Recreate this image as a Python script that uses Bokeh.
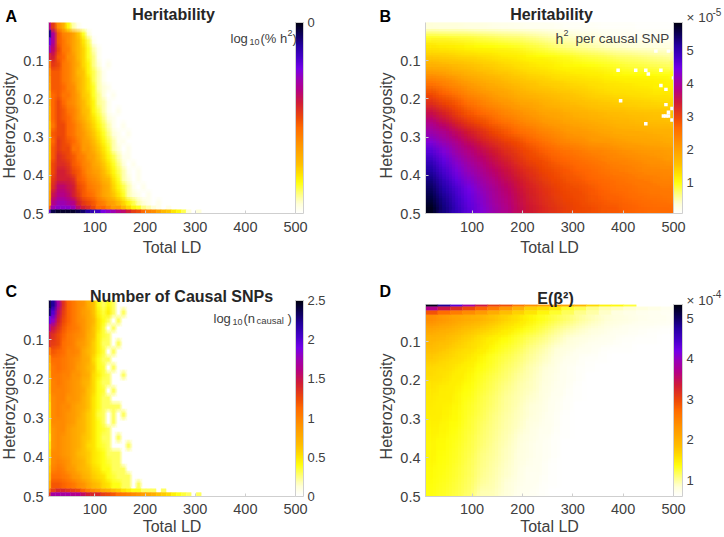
import math
import numpy as np
from bokeh.embed import file_html
from bokeh.resources import INLINE
from bokeh.plotting import figure
from bokeh.layouts import column, row
from bokeh.models import (ColumnDataSource, LinearColorMapper, ColorBar, FixedTicker, Range1d, Label)
from bokeh.transform import transform

FONT = "Liberation Sans"
INK = "#404040"
PALE = "#cfcfcf"

color_stops = [(0.00, "#ffffff"), (0.05, "#ffffd8"), (0.10, "#ffff80"), (0.16, "#ffff10"), (0.21, "#ffdf00"),
               (0.26, "#ffbf00"), (0.36, "#ff9500"), (0.45, "#ff6a00"), (0.50, "#ee4a08"), (0.58, "#d01c38"),
               (0.65, "#b40088"), (0.71, "#9800b8"), (0.76, "#7400e8"), (0.82, "#4400c8"), (0.88, "#2400a0"),
               (0.94, "#0c0058"), (1.00, "#000010")]

# ---------- Panel A: log10(% h2); rows of Heterozygosity, columns of Total LD ----------
A_rows = [
 [-0.70,-0.95,-1.25,-1.40,-1.65,-1.85,-1.95],
 [-0.20,-0.65,-1.05,-1.20,-1.25,-1.35,-1.50,-1.70,-1.90],
 [-0.45,-0.65,-1.05,-1.15,-1.25,-1.35,-1.45,-1.60,-1.75,-1.95],
 [-0.60,-0.75,-1.00,-1.15,-1.20,-1.35,-1.45,-1.55,-1.70,-1.85,-1.95],
 [-0.85,-0.85,-1.05,-1.10,-1.25,-1.30,-1.45,-1.55,-1.70,-1.80,-1.95],
 [-1.15,-0.95,-1.00,-1.15,-1.20,-1.30,-1.40,-1.55,-1.65,-1.80,-1.90,-2.00,-1.95],
 [-1.25,-1.05,-1.05,-1.15,-1.20,-1.30,-1.45,-1.50,-1.65,-1.75,-1.85,-1.95],
 [-1.30,-1.05,-1.05,-1.15,-1.20,-1.30,-1.40,-1.50,-1.60,-1.75,-1.85,-1.95],
 [-1.35,-1.05,-1.05,-1.10,-1.20,-1.25,-1.40,-1.50,-1.60,-1.70,-1.85,-1.90,-1.95],
 [-1.40,-1.10,-1.05,-1.15,-1.15,-1.25,-1.35,-1.50,-1.55,-1.70,-1.80,-1.90,-2.00,-1.95],
 [-1.40,-1.10,-1.00,-1.10,-1.20,-1.25,-1.35,-1.45,-1.55,-1.65,-1.80,-1.85,-1.95],
 [-1.45,-1.10,-1.00,-1.05,-1.15,-1.20,-1.30,-1.45,-1.50,-1.65,-1.75,-1.85,-1.95,-2.00,-1.95],
 [-1.45,-1.10,-1.00,-1.05,-1.10,-1.20,-1.30,-1.40,-1.50,-1.60,-1.70,-1.80,-1.90,-1.95],
 [-1.50,-1.15,-1.00,-1.00,-1.10,-1.15,-1.25,-1.35,-1.45,-1.55,-1.65,-1.75,-1.85,-1.95,-2.00,-1.95],
 [-1.50,-1.05,-1.00,-1.00,-1.10,-1.15,-1.25,-1.30,-1.40,-1.50,-1.60,-1.70,-1.80,-1.90,-1.95,-2.00,-1.95],
 [-1.50,-1.10,-0.95,-1.00,-1.05,-1.10,-1.20,-1.30,-1.35,-1.45,-1.55,-1.65,-1.75,-1.85,-1.95,-1.95],
 [-1.50,-1.05,-0.95,-1.00,-1.00,-1.15,-1.15,-1.30,-1.30,-1.40,-1.50,-1.60,-1.70,-1.85,-1.90,-2.00,-1.95],
 [-1.50,-1.05,-0.90,-0.95,-1.00,-1.05,-1.15,-1.20,-1.30,-1.35,-1.45,-1.55,-1.65,-1.75,-1.85,-1.95,-1.95],
 [-1.45,-1.00,-0.90,-0.90,-0.95,-1.05,-1.10,-1.20,-1.25,-1.35,-1.40,-1.50,-1.60,-1.70,-1.80,-1.90,-2.00,-1.95],
 [-1.45,-1.00,-0.85,-0.85,-0.90,-1.00,-1.05,-1.15,-1.25,-1.30,-1.35,-1.45,-1.55,-1.65,-1.75,-1.85,-1.95,-2.00,-1.95],
 [-1.45,-0.95,-0.85,-0.85,-0.85,-0.90,-1.05,-1.10,-1.20,-1.25,-1.30,-1.40,-1.45,-1.60,-1.70,-1.85,-1.90,-2.00,-1.95],
 [-1.40,-0.90,-0.75,-0.75,-0.80,-0.85,-1.00,-1.05,-1.15,-1.20,-1.25,-1.35,-1.40,-1.55,-1.65,-1.75,-1.85,-1.95,-2.00,-1.95],
 [-1.35,-0.80,-0.70,-0.70,-0.75,-0.85,-0.95,-1.05,-1.10,-1.15,-1.25,-1.35,-1.40,-1.50,-1.60,-1.70,-1.85,-1.90,-1.95,-2.00,-1.95],
 [-1.30,-0.70,-0.60,-0.60,-0.65,-0.70,-0.85,-0.95,-1.00,-1.05,-1.15,-1.20,-1.30,-1.35,-1.45,-1.55,-1.65,-1.75,-1.85,-1.90,-1.95,-2.00,-1.95],
 [-1.10,-0.60,-0.55,-0.55,-0.55,-0.60,-0.75,-0.85,-0.90,-1.00,-1.10,-1.10,-1.20,-1.30,-1.30,-1.45,-1.55,-1.65,-1.70,-1.80,-1.85,-1.90,-1.95,-2.00,-1.95],
 [-0.45,-0.10,-0.05,-0.05,-0.05,-0.05,-0.10,-0.15,-0.25,-0.30,-0.35,-0.50,-0.55,-0.60,-0.70,-0.75,-0.85,-0.95,-1.00,-1.10,-1.20,-1.25,-1.35,-1.45,-1.50,-1.60,-1.65,-1.75,-1.90,-2.00,-1.90],
]
A_bottoms = [0.02,0.04,0.06,0.08,0.10,0.12,0.14,0.16,0.18,0.20,0.22,0.24,0.26,0.28,0.30,0.32,0.34,0.36,0.38,0.40,0.42,0.44,0.46,0.48,0.49,0.50]

# ---------- Panel C: log10(n causal) ----------
C_rows = [
 [2.40,2.20,1.70,1.35,1.15,1.05,0.95,0.90,0.75,0.65,0.40,0.30,0.40,0.30],
 [2.30,2.00,1.55,1.30,1.15,1.05,0.95,0.85,0.80,0.65,0.45,0.35,0.45,0.30,0.00,0.30],
 [1.95,1.80,1.45,1.25,1.15,1.05,0.95,0.90,0.80,0.70,0.50,0.40,0.30,0.00,0.30],
 [1.65,1.50,1.35,1.20,1.10,1.05,1.00,0.90,0.80,0.65,0.50,0.35,0.00,0.30],
 [1.45,1.35,1.25,1.15,1.05,1.00,0.95,0.90,0.75,0.65,0.45,0.35,0.30],
 [1.35,1.30,1.25,1.10,1.05,1.00,0.90,0.85,0.75,0.60,0.45,0.30,0.30,0.00,0.30],
 [1.05,1.20,1.15,1.10,1.00,1.00,0.95,0.80,0.70,0.60,0.45,0.35,0.00,0.30],
 [0.80,1.10,1.10,1.05,1.00,0.95,0.90,0.80,0.75,0.55,0.40,0.30,0.30],
 [0.70,1.05,1.10,1.05,1.00,0.95,0.85,0.80,0.70,0.60,0.40,0.35,0.00,0.30],
 [0.65,1.05,1.05,1.00,1.00,0.90,0.90,0.80,0.75,0.55,0.45,0.35,0.30,0.00,0.00,0.30],
 [0.60,1.00,1.05,1.00,0.95,0.90,0.85,0.75,0.70,0.55,0.40,0.30,0.30],
 [0.60,1.00,1.00,1.00,0.95,0.90,0.85,0.80,0.65,0.55,0.40,0.35,0.00,0.30],
 [0.55,0.95,1.00,1.00,0.90,0.90,0.85,0.75,0.65,0.50,0.40,0.30,0.30],
 [0.50,0.95,1.00,0.95,0.95,0.85,0.80,0.75,0.65,0.50,0.40,0.30,0.30,0.30,0.30],
 [0.50,0.95,1.00,0.95,0.90,0.85,0.80,0.70,0.60,0.50,0.35,0.30,0.00,0.30,0.00,0.30],
 [0.45,0.95,0.95,0.95,0.90,0.85,0.75,0.70,0.60,0.50,0.40,0.30,0.00,0.30],
 [0.45,0.90,0.95,0.95,0.85,0.80,0.75,0.70,0.60,0.50,0.40,0.35,0.30],
 [0.40,0.90,0.95,0.90,0.85,0.80,0.75,0.65,0.60,0.50,0.40,0.30,0.30,0.00,0.30],
 [0.45,0.90,0.95,0.90,0.85,0.80,0.75,0.65,0.55,0.50,0.40,0.35,0.30,0.00,0.00,0.00,0.30],
 [0.50,0.95,0.95,0.90,0.85,0.80,0.70,0.65,0.60,0.50,0.45,0.40,0.30,0.30,0.30],
 [0.55,0.95,1.00,0.95,0.90,0.80,0.75,0.70,0.60,0.50,0.45,0.40,0.35,0.30,0.30],
 [0.60,1.00,1.05,1.00,0.90,0.85,0.75,0.70,0.65,0.55,0.50,0.40,0.40,0.30,0.30,0.30],
 [0.65,1.10,1.10,1.05,1.00,0.90,0.85,0.75,0.70,0.60,0.55,0.50,0.40,0.35,0.30,0.30,0.30],
 [0.75,1.20,1.20,1.15,1.10,1.05,0.95,0.90,0.80,0.70,0.65,0.55,0.50,0.40,0.40,0.30,0.30,0.00,0.30],
 [1.00,1.30,1.40,1.40,1.35,1.30,1.25,1.15,1.05,0.95,0.90,0.80,0.75,0.65,0.60,0.50,0.45,0.40,0.40,0.30,0.30,0.30,0.00,0.30],
 [1.30,1.70,1.70,1.70,1.70,1.65,1.65,1.55,1.45,1.40,1.40,1.30,1.25,1.20,1.10,1.05,1.00,0.95,0.90,0.85,0.80,0.75,0.65,0.60,0.55,0.45,0.40,0.35,0.30,0.00,0.30],
]
C_bottoms = A_bottoms

# ---------- Panel B: h2 per causal SNP, x 1e-5 ----------
B_rows = [
 [.35,.34,.33,.31,.29,.27,.25,.22,.20,.19,.17,.16,.15,.14,.13,.12,.12,.11,.10,.10],
 [.90,.88,.85,.82,.78,.74,.70,.66,.60,.54,.47,.42,.36,.30,.25,.20,.18,.16,.15,.14],
 [1.20,1.17,1.12,1.08,1.03,1.00,.96,.91,.85,.78,.70,.62,.55,.50,.45,.40,.37,.34,.31,.29],
 [1.45,1.42,1.37,1.33,1.28,1.23,1.17,1.12,1.06,1.00,.96,.91,.86,.80,.75,.70,.66,.62,.58,.54],
 [1.75,1.70,1.62,1.55,1.48,1.42,1.35,1.28,1.22,1.16,1.10,1.06,1.02,.98,.94,.90,.86,.82,.78,.74],
 [2.15,2.05,1.92,1.78,1.68,1.60,1.52,1.44,1.37,1.32,1.26,1.22,1.18,1.14,1.10,1.06,1.04,1.02,1.00,.98],
 [2.55,2.40,2.22,2.04,1.92,1.80,1.70,1.60,1.52,1.46,1.41,1.36,1.32,1.28,1.24,1.21,1.18,1.15,1.13,1.10],
 [2.90,2.70,2.50,2.28,2.14,2.00,1.88,1.76,1.68,1.62,1.56,1.50,1.46,1.40,1.35,1.30,1.28,1.25,1.22,1.20],
 [3.20,3.00,2.78,2.55,2.38,2.22,2.08,1.95,1.86,1.77,1.70,1.64,1.58,1.53,1.48,1.45,1.42,1.39,1.37,1.35],
 [3.55,3.32,3.05,2.82,2.64,2.47,2.32,2.18,2.04,1.94,1.86,1.79,1.72,1.68,1.64,1.60,1.57,1.54,1.52,1.50],
 [3.85,3.60,3.32,3.08,2.90,2.72,2.54,2.38,2.24,2.12,2.02,1.94,1.87,1.82,1.76,1.70,1.67,1.64,1.62,1.60],
 [4.10,3.90,3.62,3.38,3.18,2.98,2.78,2.62,2.48,2.34,2.22,2.12,2.05,1.98,1.92,1.85,1.82,1.80,1.77,1.75],
 [4.35,4.12,3.86,3.60,3.38,3.20,3.02,2.88,2.70,2.54,2.40,2.28,2.20,2.12,2.06,2.00,1.96,1.92,1.88,1.85],
 [4.65,4.35,4.05,3.80,3.60,3.40,3.20,3.03,2.88,2.74,2.62,2.52,2.42,2.34,2.27,2.20,2.14,2.09,2.04,2.00],
 [4.90,4.55,4.25,3.98,3.76,3.55,3.35,3.16,3.00,2.87,2.75,2.65,2.56,2.48,2.40,2.33,2.27,2.21,2.16,2.12],
 [5.10,4.72,4.40,4.15,3.92,3.70,3.48,3.28,3.12,2.98,2.86,2.76,2.67,2.58,2.50,2.44,2.38,2.32,2.28,2.24],
 [5.30,4.90,4.55,4.30,4.05,3.82,3.60,3.40,3.22,3.06,2.94,2.84,2.76,2.68,2.60,2.54,2.48,2.42,2.38,2.34],
 [5.45,5.05,4.70,4.45,4.20,3.95,3.72,3.50,3.32,3.15,3.02,2.92,2.85,2.76,2.68,2.62,2.56,2.50,2.46,2.42],
 [5.60,5.20,4.80,4.52,4.28,4.02,3.78,3.55,3.36,3.20,3.07,2.97,2.90,2.82,2.75,2.69,2.63,2.57,2.54,2.50],
 [5.75,5.30,4.90,4.60,4.35,4.10,3.85,3.60,3.40,3.25,3.12,3.02,2.95,2.88,2.82,2.76,2.70,2.65,2.62,2.60],
]
B_hole_ld = [390,425,445,450,475,500,465,490,475,485,395,485,497,490,480,485,490,497,445]
B_hole_het = [.125,.125,.125,.135,.125,.145,.075,.075,.165,.175,.205,.215,.225,.235,.245,.245,.245,.255,.265]

# ---------- Panel D: E(beta^2), x 1e-4 ----------
D_top_rows = [
 [5.30,4.80,4.35,3.85,3.40,3.05,2.95,2.60,2.35,2.20,2.20,2.10,1.95,1.65,1.45,1.40,1.25,.60,.60,.60],
 [3.70,3.40,3.20,3.00,2.80,2.55,2.25,2.00,1.70,1.60,1.50,1.30,1.20,1.05,.95,.90,.85,.80,.75,.70],
 [2.90,2.70,2.55,2.40,2.25,2.05,1.85,1.70,1.55,1.42,1.30,1.18,1.05,.98,.88,.80,.75,.72,.70,.68],
]
D_top_bottoms = [0.01, 0.02, 0.03]
D_rows = [
 [2.35,2.22,2.10,2.02,1.95,1.82,1.68,1.55,1.42,1.32,1.20,1.10,1.00,.92,.85,.80,.76,.72,.70,.68],
 [2.10,2.02,1.92,1.82,1.72,1.62,1.52,1.40,1.30,1.18,1.06,.96,.88,.82,.76,.72,.68,.66,.64,.63],
 [1.95,1.88,1.78,1.68,1.55,1.46,1.36,1.25,1.15,1.05,.94,.85,.78,.74,.70,.67,.65,.63,.62,.60],
 [1.85,1.78,1.68,1.60,1.50,1.38,1.28,1.18,1.05,.96,.85,.78,.72,.68,.65,.63,.62,.61,.60,.60],
 [1.75,1.68,1.60,1.52,1.40,1.30,1.20,1.10,1.00,.90,.80,.72,.67,.64,.62,.61,.60,.60,.60,.60],
 [1.65,1.60,1.52,1.45,1.35,1.25,1.15,1.05,.95,.85,.76,.69,.65,.62,.61,.60,.60,.60,.60,.60],
 [1.60,1.55,1.48,1.40,1.30,1.20,1.10,1.00,.92,.82,.73,.68,.64,.61,.60,.60,.60,.60,.60,.60],
 [1.55,1.50,1.45,1.36,1.25,1.16,1.06,.97,.90,.80,.72,.66,.63,.60,.60,.60,.60,.60,.60,.60],
 [1.52,1.48,1.42,1.33,1.22,1.12,1.02,.94,.87,.78,.70,.65,.62,.60,.60,.60,.60,.60,.60,.60],
 [1.50,1.46,1.40,1.30,1.20,1.10,1.00,.92,.84,.76,.69,.64,.61,.60,.60,.60,.60,.60,.60,.60],
 [1.48,1.44,1.38,1.28,1.18,1.08,.98,.90,.81,.74,.67,.63,.60,.60,.60,.60,.60,.60,.60,.60],
 [1.46,1.42,1.36,1.26,1.15,1.06,.96,.88,.78,.72,.66,.62,.60,.60,.60,.60,.60,.60,.60,.60],
 [1.45,1.40,1.34,1.24,1.13,1.04,.94,.85,.76,.70,.65,.62,.60,.60,.60,.60,.60,.60,.60,.60],
 [1.43,1.38,1.32,1.22,1.10,1.02,.92,.82,.74,.69,.64,.61,.60,.60,.60,.60,.60,.60,.60,.60],
 [1.42,1.36,1.30,1.20,1.08,1.00,.90,.80,.73,.68,.64,.60,.60,.60,.60,.60,.60,.60,.60,.60],
 [1.40,1.35,1.28,1.18,1.05,.98,.88,.78,.72,.67,.63,.60,.60,.60,.60,.60,.60,.60,.60,.60],
 [1.38,1.34,1.26,1.16,1.03,.96,.86,.76,.71,.66,.62,.60,.60,.60,.60,.60,.60,.60,.60,.60],
 [1.36,1.32,1.24,1.14,1.00,.94,.84,.74,.70,.65,.62,.60,.60,.60,.60,.60,.60,.60,.60,.60],
 [1.35,1.30,1.22,1.12,.95,.92,.82,.72,.68,.64,.61,.60,.60,.60,.60,.60,.60,.60,.60,.60],
]

LD_ticks = [100, 200, 300, 400, 500]
het_ticks = [0.1, 0.2, 0.3, 0.4, 0.5]
wide_edges = [7.5, 12, 22, 32, 42, 52, 62, 72, 82, 92, 102, 112, 122, 132, 142, 152, 162, 172, 182, 192, 202, 212, 222,
              232, 242, 252, 262, 272, 282, 292, 302, 312]
even_edges = [7.5, 32, 57, 81, 106, 131, 155, 180, 204, 229, 254, 278, 303, 327, 352, 377, 401, 426, 450, 475, 500]

A_bar = {0: "0", -0.5: "-0.5", -1: "-1", -1.5: "-1.5", -2: "-2"}
B_bar = {1: "1", 2: "2", 3: "3", 4: "4", 5: "5"}
C_bar = {0: "0", 0.5: "0.5", 1: "1", 1.5: "1.5", 2: "2", 2.5: "2.5"}
D_bar = {1: "1", 2: "2", 3: "3", 4: "4", 5: "5"}


def make_palette(n=256):
    fr = [s[0] for s in color_stops]
    rgb = np.array([[int(s[1][i:i + 2], 16) for i in (1, 3, 5)] for s in color_stops])
    t = np.linspace(0, 1, n)
    out = np.stack([np.interp(t, fr, rgb[:, k]) for k in range(3)], axis=1).round().astype(int)
    return ["#%02x%02x%02x" % tuple(c) for c in out]


PAL = make_palette()


def soft_image(p, grid, x_left, x_right, y_top, y_bottom, mapper, shifts):
    # The original is a softly resampled bitmap: blend copies of one image at sub-cell shifts
    arr = np.array(grid, dtype=float)
    dw, dh = x_right - x_left, y_bottom - y_top
    p.image(image=[arr], x=x_left, y=y_top, dw=dw, dh=dh, color_mapper=mapper)
    cell_x, cell_y = dw / arr.shape[1], dh / arr.shape[0]
    n = 1
    for sx in shifts:
        for sy in shifts:
            n += 1
            p.image(image=[arr], x=x_left + sx * cell_x, y=y_top + sy * cell_y, dw=dw, dh=dh,
                    color_mapper=mapper, global_alpha=1.0 / n)


def panel(sparse, quad_rows, bottoms, edges, smooth, top0, low, high, bar_map, fig_box, frame_box, bar_w, bar_gap):
    # fig_box: (x0, y0, x1, y1) in page px; frame_box likewise
    fx0, fy0, fx1, fy1 = fig_box
    x0, y0, x1, y1 = frame_box
    p = figure(frame_width=x1 - x0, frame_height=y1 - y0,
               min_border_left=x0 - fx0, min_border_right=fx1 - x1,
               min_border_top=y0 - fy0, min_border_bottom=fy1 - y1,
               x_range=Range1d(7.5, 500), y_range=Range1d(0.5, top0),
               output_backend="svg", toolbar_location=None, outline_line_color=None,
               background_fill_color="white", border_fill_color="white")
    p.grid.visible = False
    mapper = LinearColorMapper(palette=PAL, low=low, high=high)
    if smooth is not None:
        grid, y_top = smooth
        soft_image(p, grid, 7.5, 500, y_top, 0.5, mapper, (-0.375, -0.125, 0.125, 0.375))
    n_soft = 0
    if sparse:
        # all but the narrow first column and the two thin bottom rows go through the soft image
        n_soft = 24
        width = len(edges) - 2
        grid = [(rw[1:] + [low] * width)[:width] for rw in quad_rows[:n_soft]]
        soft_image(p, grid, edges[1], edges[-1], top0, bottoms[n_soft - 1], mapper, (-0.25, 0.25))
    L, R, T, B, V = [], [], [], [], []
    prev = top0
    for k, (rw, bt) in enumerate(zip(quad_rows, bottoms)):
        for i, v in enumerate(rw):
            if v > low and (k >= n_soft or i == 0):
                L.append(edges[i]); R.append(edges[i + 1]); T.append(prev); B.append(bt); V.append(v)
        prev = bt
    if V:
        src = ColumnDataSource(dict(l=L, r=R, t=T, b=B, v=V))
        col = transform("v", mapper)
        p.quad(left="l", right="r", top="t", bottom="b", source=src, fill_color=col, line_color=col, line_width=0.4)

    second_row = fy0 > 0
    for ax, ticks in ((p.xaxis[0], LD_ticks), (p.yaxis[0], het_ticks)):
        ax.ticker = FixedTicker(ticks=ticks)
        ax.major_label_text_font = FONT
        ax.major_label_text_font_size = "14.5px"
        ax.major_label_text_color = INK
        ax.axis_line_color = PALE
        ax.major_tick_line_color = PALE
        ax.major_tick_in = 3
        ax.major_tick_out = 0
        ax.minor_tick_line_color = None
    xa = p.xaxis[0]
    xa.axis_label = "Total LD"
    xa.axis_label_text_font = FONT
    xa.axis_label_text_font_size = "16px"
    xa.axis_label_text_font_style = "normal"
    xa.axis_label_text_color = INK
    xa.major_label_standoff = 7 if second_row else 8
    xa.axis_label_standoff = 1 if second_row else 4
    p.yaxis[0].major_label_standoff = 5

    cb = ColorBar(color_mapper=mapper, ticker=FixedTicker(ticks=list(bar_map.keys())),
                  major_label_overrides=bar_map, width=bar_w, height=y1 - y0, margin=bar_gap, padding=0,
                  label_standoff=4, major_tick_line_color=None, minor_tick_line_color=None,
                  bar_line_color=PALE, border_line_color=None, background_fill_color=None,
                  major_label_text_font=FONT, major_label_text_font_size="13px", major_label_text_color=INK)
    p.add_layout(cb, "right")
    return p


A = panel(True, A_rows, A_bottoms, wide_edges, None, 0.0, -2, 0, A_bar, (0, 0, 362, 268), (48, 22, 295, 213), 8, 4)
B = panel(False, [], [], even_edges, (B_rows, 0.0), 0.0, 0.07, 5.85, B_bar, (362, 0, 724, 268), (425, 22, 673, 213), 9, 3)
B.rect(x=B_hole_ld, y=B_hole_het, width=7, height=0.009, fill_color="white", line_color=None)
C = panel(True, C_rows, C_bottoms, wide_edges, None, 0.0, 0, 2.5, C_bar, (0, 268, 362, 537), (48, 300, 295, 496), 8, 4)
D = panel(False, D_top_rows, D_top_bottoms, even_edges, (D_rows, 0.03), 0.004, 0.6, 5.34, D_bar, (362, 268, 724, 537), (425, 304, 673, 496), 9, 3)

# Transparent sheet over the whole page that carries every text outside the frames
sheet = figure(width=724, height=537, x_range=Range1d(0, 724), y_range=Range1d(537, 0),
               x_axis_location=None, y_axis_location=None, min_border=0, outline_line_color=None,
               background_fill_color=None, border_fill_color=None, output_backend="svg", toolbar_location=None)
sheet.grid.visible = False


def put(txt, px, py, size, style="normal", color=INK, align="left", base="alphabetic", angle=0.0):
    sheet.add_layout(Label(x=px, y=py, text=txt, text_font=FONT, text_font_size=f"{size}px",
                           text_font_style=style, angle=angle, text_color=color, text_align=align, text_baseline=base))


for txt, cx, by in (("Heritability", 173, 14), ("Heritability", 551, 14), ("Number of Causal SNPs", 181, 296),
                    ("E(\u03b2\u00b2)", 555, 298)):
    put(txt, cx, by, 16, "bold", "#262626", "center")
for txt, lx, by in (("A", 5, 16), ("B", 379, 16), ("C", 5, 291), ("D", 379, 291)):
    put(txt, lx, by, 16, "bold", "#000000")
for lx, ly in ((9, 125), (386, 125), (9, 406), (386, 406)):
    put("Heterozygosity", lx, ly, 16, "normal", INK, "center", "middle", math.pi / 2)
for note in (("log", 230, 38, 13), ("10", 249, 41, 9), ("(% h", 260, 38, 13), ("2", 287, 32, 9), (")", 292, 38, 13),
             ("h", 555, 38, 14), ("2", 563, 32, 9), ("per causal SNP", 575, 38, 13.5),
             ("\u00d7 10", 686, 17, 13.5), ("-5", 712, 11, 10),
             ("log", 213, 318, 13), ("10", 232, 321, 9), ("(n", 243, 318, 13), ("causal", 256, 320, 9.5), (")", 287, 318, 13),
             ("\u00d7 10", 686, 300, 13.5), ("-4", 712, 293, 10)):
    put(*note)

grid = column(row(column(A), column(B), spacing=0), row(column(C), column(D), spacing=0), spacing=0)
page = column(grid, column(sheet, margin=(-537, 0, 0, 0)), spacing=0)
open("out.html", "w").write(file_html(page, INLINE))
